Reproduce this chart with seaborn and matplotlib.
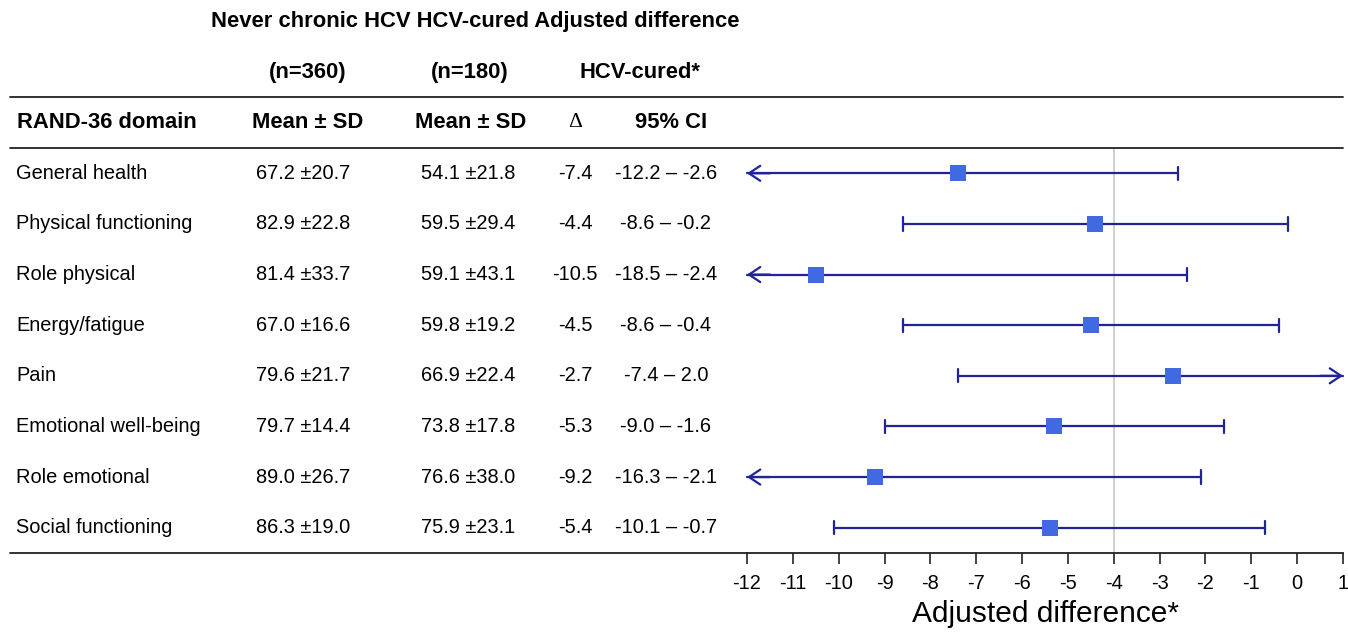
import numpy as np
import matplotlib
matplotlib.use("Agg")
import matplotlib.pyplot as plt
import matplotlib.transforms as mtransforms
from matplotlib.lines import Line2D
import seaborn as sns
import pandas as pd

# dati
domains = ["General health", "Physical functioning", "Role physical", "Energy/fatigue",
           "Pain", "Emotional well-being", "Role emotional", "Social functioning"]
never_mean = [67.2, 82.9, 81.4, 67.0, 79.6, 79.7, 89.0, 86.3]
never_sd = [20.7, 22.8, 33.7, 16.6, 21.7, 14.4, 26.7, 19.0]
cured_mean = [54.1, 59.5, 59.1, 59.8, 66.9, 73.8, 76.6, 75.9]
cured_sd = [21.8, 29.4, 43.1, 19.2, 22.4, 17.8, 38.0, 23.1]
delta = [-7.4, -4.4, -10.5, -4.5, -2.7, -5.3, -9.2, -5.4]
ci_low = [-12.2, -8.6, -18.5, -8.6, -7.4, -9.0, -16.3, -10.1]
ci_high = [-2.6, -0.2, -2.4, -0.4, 2.0, -1.6, -2.1, -0.7]
xticks = list(range(-12, 2))
ref_line = -4

df = pd.DataFrame({"domain": domains, "delta": delta, "lo": ci_low, "hi": ci_high,
                   "row": np.arange(len(domains))})

sns.set_style("white")
plt.rcParams["font.family"] = ["Liberation Sans", "DejaVu Sans"]
plt.rcParams["text.color"] = "black"
plt.rcParams["xtick.color"] = "black"
plt.rcParams["axes.labelcolor"] = "black"

W, H = 1348, 633
fig = plt.figure(figsize=(W / 100, H / 100), dpi=100)
ax = fig.add_axes([747 / W, 1 - 553 / H, (1343 - 747) / W, (553 - 148) / H])

xmin, xmax = -12, 1
ax.set_xlim(xmin, xmax)
ax.set_ylim(len(domains) - 0.5, -0.5)

line_col = "#22229a"
box_col = "#4169e1"
arrow = "->, head_length=0.45, head_width=0.3"

# linea di riferimento
ax.axvline(ref_line, color="#c8c8c8", lw=1.2, zorder=0)

# intervalli di confidenza (con frecce se escono dal range)
for _, r in df.iterrows():
    lo, hi, y = r["lo"], r["hi"], r["row"]
    lo_c, hi_c = max(lo, xmin), min(hi, xmax)
    ax.plot([lo_c, hi_c], [y, y], color=line_col, lw=1.6, zorder=2, clip_on=False)
    if lo < xmin:
        ax.annotate("", xy=(xmin, y), xytext=(xmin + 0.5, y),
                    arrowprops=dict(arrowstyle=arrow, color=line_col, lw=1.6,
                                    mutation_scale=18, shrinkA=0, shrinkB=0),
                    annotation_clip=False)
    else:
        ax.plot([lo, lo], [y - 0.13, y + 0.13], color=line_col, lw=1.6, zorder=2)
    if hi > xmax:
        ax.annotate("", xy=(xmax, y), xytext=(xmax - 0.5, y),
                    arrowprops=dict(arrowstyle=arrow, color=line_col, lw=1.6,
                                    mutation_scale=18, shrinkA=0, shrinkB=0),
                    annotation_clip=False)
    else:
        ax.plot([hi, hi], [y - 0.13, y + 0.13], color=line_col, lw=1.6, zorder=2)

sns.scatterplot(data=df, x="delta", y="row", marker="s", s=125, color=box_col,
                edgecolor=box_col, linewidth=0, zorder=3, ax=ax, legend=False)

# assi
for s in ["top", "right", "left"]:
    ax.spines[s].set_visible(False)
ax.spines["bottom"].set_linewidth(1.3)
ax.spines["bottom"].set_color("#222222")
ax.set_yticks([])
ax.set_ylabel("")
ax.set_xticks(xticks)
ax.set_xticklabels([str(t) for t in xticks])
ax.tick_params(axis="x", direction="out", length=8, width=1.2, color="#222222",
               labelsize=14.4, pad=7, bottom=True)
ax.set_xlabel("Adjusted difference*", fontsize=21.5, labelpad=5)

# tabella a sinistra
tr = mtransforms.blended_transform_factory(fig.transFigure, ax.transData)
def fx(px):
    return px / W

fs = 14.4
hs = 15.8
for i in range(len(domains)):
    ax.text(fx(16), i, domains[i], transform=tr, ha="left", va="center", fontsize=fs)
    ax.text(fx(303), i, f"{never_mean[i]:.1f} \u00b1{never_sd[i]:.1f}", transform=tr,
            ha="center", va="center", fontsize=fs)
    ax.text(fx(468), i, f"{cured_mean[i]:.1f} \u00b1{cured_sd[i]:.1f}", transform=tr,
            ha="center", va="center", fontsize=fs)
    ax.text(fx(575), i, f"{delta[i]:.1f}", transform=tr, ha="center", va="center", fontsize=fs)
    ax.text(fx(666), i, f"{ci_low[i]:.1f} \u2013 {ci_high[i]:.1f}", transform=tr,
            ha="center", va="center", fontsize=fs)

# intestazioni
ax.text(fx(475), -3, "Never chronic HCV HCV-cured Adjusted difference", transform=tr,
        ha="center", va="center", fontsize=hs, fontweight="bold")
ax.text(fx(308), -2, "(n=360)", transform=tr, ha="center", va="center", fontsize=hs, fontweight="bold")
ax.text(fx(470), -2, "(n=180)", transform=tr, ha="center", va="center", fontsize=hs, fontweight="bold")
ax.text(fx(640), -2, "HCV-cured*", transform=tr, ha="center", va="center", fontsize=hs, fontweight="bold")
ax.text(fx(17), -1, "RAND-36 domain", transform=tr, ha="left", va="center", fontsize=hs, fontweight="bold")
ax.text(fx(308), -1, "Mean \u00b1 SD", transform=tr, ha="center", va="center", fontsize=hs, fontweight="bold")
ax.text(fx(471), -1, "Mean \u00b1 SD", transform=tr, ha="center", va="center", fontsize=hs, fontweight="bold")
ax.text(fx(575), -1, "\u0394", transform=tr, ha="center", va="center", fontsize=15.5,
        family=["Liberation Serif", "DejaVu Serif"])
ax.text(fx(671), -1, "95% CI", transform=tr, ha="center", va="center", fontsize=hs, fontweight="bold")

# righe orizzontali della tabella
for yy, x1 in [(-1.5, 1343), (-0.5, 1343), (len(domains) - 0.5, 747)]:
    ax.add_line(Line2D([fx(10), fx(x1)], [yy, yy], transform=tr, color="#222222",
                       lw=1.3, clip_on=False))

fig.savefig("out.png", dpi=100)
